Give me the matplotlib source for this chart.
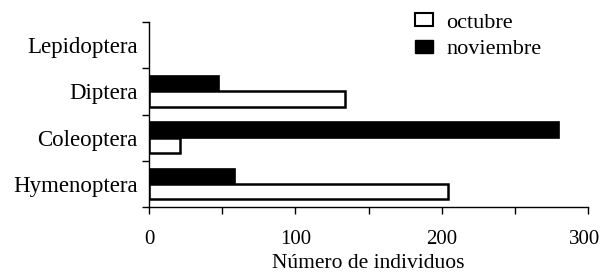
import matplotlib
matplotlib.use("Agg")
import matplotlib.pyplot as plt
import matplotlib.transforms as mtransforms
from matplotlib.patches import Patch
import numpy as np

categories = ["Hymenoptera", "Coleoptera", "Diptera", "Lepidoptera"]
octubre = [204, 21, 134, 0]
noviembre = [59, 280, 48, 0]
xticks = [0, 100, 200, 300]

plt.rcParams['font.family'] = ['Liberation Serif', 'DejaVu Serif']

fig = plt.figure(figsize=(6.02, 2.73), dpi=100)
ax = fig.add_axes([149/602, 1-207/273, (588-149)/602, (207-22)/273])

y = np.arange(len(categories))
h = 0.33
ax.barh(y + h/2, noviembre, height=h, color='black',
        edgecolor=['black' if v else 'none' for v in noviembre], linewidth=1.2)
ax.barh(y - h/2, octubre, height=h, color='white',
        edgecolor=['black' if v else 'none' for v in octubre], linewidth=1.8)

ax.set_xlim(0, 300)
ax.set_ylim(-0.5, 3.5)
ax.set_xticks(xticks)
ax.set_xticklabels([str(v) for v in xticks], fontsize=15)
ax.set_xticks([50, 150, 250], minor=True)
ax.set_yticks(y)
ax.set_yticklabels(categories, fontsize=16.5)
ax.set_yticks(np.arange(-0.5, 3.6, 1.0), minor=True)
ax.tick_params(axis='y', which='major', length=0, pad=8)
ax.tick_params(axis='y', which='minor', direction='out', length=5, width=1, color='black')
ax.tick_params(axis='x', which='both', direction='out', length=5, width=1, color='black', pad=11.5)
for s in ['top', 'right']:
    ax.spines[s].set_visible(False)
for s in ['left', 'bottom']:
    ax.spines[s].set_linewidth(1)
ax.set_xlabel("Número de individuos", fontsize=15.5, labelpad=4)

# nudge last x tick label slightly left so it stays inside the canvas
last = ax.get_xticklabels()[-1]
last.set_transform(last.get_transform() + mtransforms.ScaledTranslation(-3/100, 0, fig.dpi_scale_trans))

handles = [Patch(facecolor='white', edgecolor='black', linewidth=1.5, label='octubre'),
           Patch(facecolor='black', edgecolor='black', label='noviembre')]
ax.legend(handles=handles, loc='upper left', bbox_to_anchor=(415/602, 1-13/273),
          bbox_transform=fig.transFigure, frameon=False,
          fontsize=16, handlelength=0.8, handleheight=0.55, handletextpad=0.6,
          labelspacing=0.32, borderaxespad=0, borderpad=0)

fig.savefig("out.png", dpi=100)
